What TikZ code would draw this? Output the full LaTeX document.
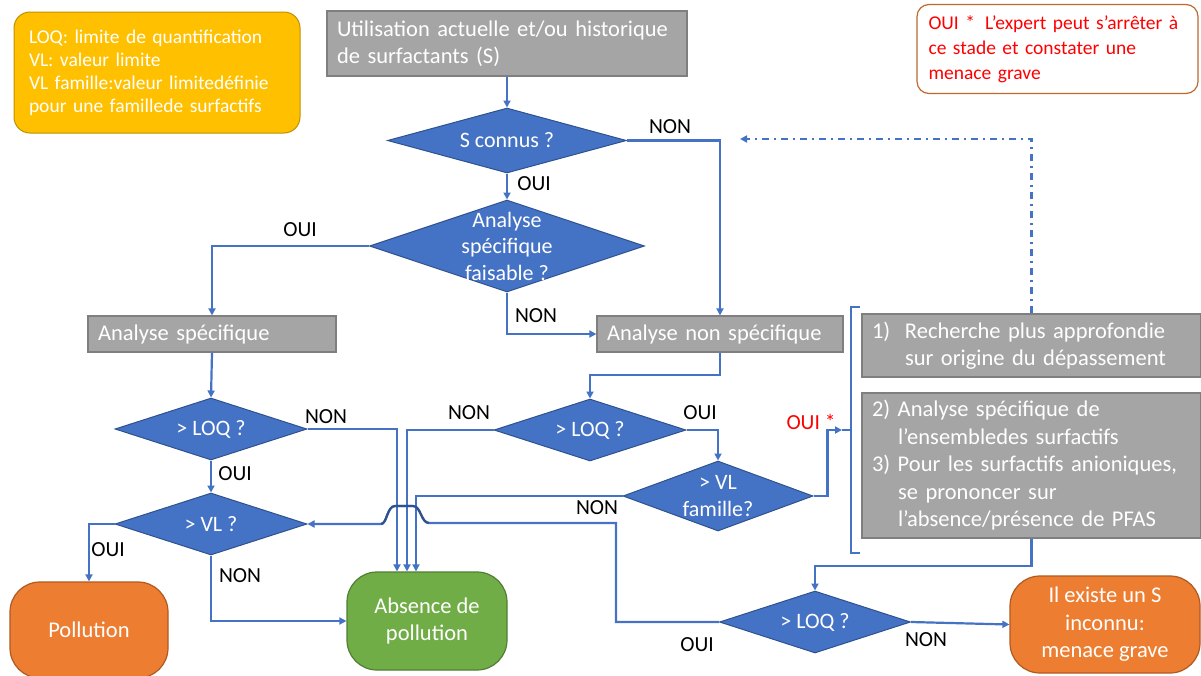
\documentclass[tikz,border=0pt]{standalone}
\usepackage{fontspec}
\setmainfont{Carlito}
\usetikzlibrary{shapes.geometric,arrows.meta,calc}
\definecolor{dblue}{HTML}{4472C4}
\definecolor{dbluedk}{HTML}{2F528F}
\definecolor{boxgray}{HTML}{A5A5A5}
\definecolor{boxgraydk}{HTML}{7F7F7F}
\definecolor{legyel}{HTML}{FFC000}
\definecolor{legyeldk}{HTML}{BF9000}
\definecolor{termor}{HTML}{ED7D31}
\definecolor{termordk}{HTML}{AE5A21}
\definecolor{termgr}{HTML}{70AD47}
\definecolor{termgrdk}{HTML}{507E32}
\definecolor{notebr}{HTML}{C0682C}
\definecolor{notered}{HTML}{FF0000}
\newcommand\setfs[2]{\fontsize{#1}{#2}\selectfont}

\begin{document}
\begin{tikzpicture}[x=1pt,y=-1pt,
  dia/.style={diamond, draw=dbluedk, fill=dblue, line width=1pt, inner sep=0pt},
  dtext/.style={text=white, font=\setfs{22}{26.5}, align=center, inner sep=0pt},
  grbox/.style={rectangle, draw=boxgraydk, fill=boxgray, line width=1.2pt, text=white,
    font=\setfs{22.5}{27.5}, align=left, inner xsep=10pt, inner ysep=0pt},
  term/.style={rectangle, rounded corners=30pt, line width=1.2pt, text=white,
    font=\setfs{22.5}{27.5}, align=center, inner sep=0pt},
  conn/.style={draw=dblue, line width=2.2pt},
  arr/.style={conn, -{Triangle[length=7pt,width=7pt]}},
  lab/.style={font=\setfs{21.5}{25}, text=black, inner sep=0pt},
]
\useasboundingbox (0,0) rectangle (1201,675);

% legend and note
\node[rectangle, rounded corners=16pt, fill=legyel, draw=legyeldk, line width=1pt,
  minimum width=286pt, minimum height=121pt, text width=256pt, align=left,
  text=white, font=\setfs{19.5}{23}, inner sep=0pt] (legend) at (157,72.5)
  {LOQ: limite de quantification\\VL: valeur limite\\VL famille:valeur limitedéfinie\\pour une famillede surfactifs};
\node[rectangle, rounded corners=12pt, fill=white, draw=notebr, line width=1.2pt,
  minimum width=281pt, minimum height=89pt, text width=258pt, align=left,
  text=notered, font=\setfs{19.5}{25}, inner xsep=11.5pt, inner ysep=0pt] (note) at (1057.5,49)
  {OUI *\hspace{10pt}L’expert peut s’arrêter à\\ce stade et constater une\\menace grave};

% process boxes
\node[grbox, minimum width=360pt, minimum height=65pt, text width=340pt] (top) at (507,43.5)
  {Utilisation actuelle et/ou historique\\de surfactants (S)};
\node[grbox, minimum width=248pt, minimum height=36pt, text width=228pt] (spec) at (212,334)
  {Analyse spécifique};
\node[grbox, minimum width=246pt, minimum height=36pt, text width=226pt] (nonspec) at (720,334)
  {Analyse non spécifique};
\node[grbox, minimum width=339pt, minimum height=63pt, text width=319pt] (box1) at (1031.5,345.5)
  {\makebox[33pt][l]{1)}Recherche plus approfondie\\\hspace*{33pt}sur origine du dépassement};
\node[grbox, minimum width=339pt, minimum height=145pt, text width=319pt] (box23) at (1031.5,465.5)
  {2) Analyse spécifique de\\\hspace*{26pt}l’ensembledes surfactifs\\3) Pour les surfactifs anioniques,\\\hspace*{26pt}se prononcer sur\\\hspace*{26pt}l’absence/présence de PFAS};

% decisions
\node[dia, minimum width=239pt, minimum height=65pt] (s1) at (507,140.5) {};
\node[dtext] (s1t) at (s1.center) {S connus ?};
\node[dia, minimum width=275pt, minimum height=92pt] (d2) at (507,246) {};
\node[dtext] (d2t) at (d2.center) {Analyse\\spécifique\\faisable ?};
\node[dia, minimum width=192pt, minimum height=62pt] (loq1) at (211,429) {};
\node[dtext] (loq1t) at (loq1.center) {> LOQ ?};
\node[dia, minimum width=192pt, minimum height=62pt] (vl) at (211,524) {};
\node[dtext] (vlt) at (vl.center) {> VL ?};
\node[dia, minimum width=192pt, minimum height=62pt] (loq2) at (590,430) {};
\node[dtext] (loq2t) at (loq2.center) {> LOQ ?};
\node[dia, minimum width=190pt, minimum height=70pt] (vlf) at (718,496) {};
\node[dtext] (vlft) at (vlf.center) {> VL\\famille?};
\node[dia, minimum width=191pt, minimum height=62pt] (loq3) at (815,622) {};
\node[dtext] (loq3t) at (loq3.center) {> LOQ ?};

% outcomes
\node[term, fill=termor, draw=termordk, minimum width=158pt, minimum height=96pt] (pol) at (89,630) {Pollution};
\node[term, fill=termgr, draw=termgrdk, minimum width=160pt, minimum height=98pt] (abs) at (427,621) {Absence de\\pollution};
\node[term, fill=termor, draw=termordk, minimum width=190pt, minimum height=97pt] (ile) at (1105,624.5) {Il existe un S\\inconnu:\\menace grave};

% helper points
\coordinate (brk) at (842,430);
\coordinate (brt) at (860,307);
\coordinate (brb) at (860,553);
\coordinate (fb) at (740,139);
\coordinate (jr) at (616,523);

% connectors
\draw[arr] (top.south) -- (s1.north);
\draw[arr] (s1.east) -| (nonspec.north);
\draw[arr] (s1.south) -- (d2.north);
\draw[arr] (d2.west) -| (spec.north);
\draw[arr] (d2.south) |- (nonspec.west);
\draw[arr] (spec.south) -- (loq1.north);
\draw[arr] (loq1.east) -| ([xshift=-30pt]abs.north);
\draw[arr] (loq2.west) -| ([xshift=-20pt]abs.north);
\draw[arr] (vlf.west) -| ([xshift=-11pt]abs.north);
\draw[arr] (loq1.south) -- (vl.north);
\draw[arr] (vl.west) -| (pol.north);
\draw[arr] (vl.south) |- (abs.west);
\draw[arr] (nonspec.south) -- ++(0,22) -| (loq2.north);
\draw[arr] (loq2.east) -| (vlf.north);
\draw[arr] (vlf.east) -- ++(14,0) |- (brk);
\draw[conn] (brt) -- ++(-9,0) -- ($(brb)+(-9,0)$) -- (brb);
\draw[conn] (brk) -- (851,430);
\draw[arr] (box23.south) -- ++(0,27) -| (loq3.north);
\draw[arr] (loq3.east) -- (ile.west);
\draw[arr] (loq3.west) -| (jr) -- (429,523)
  .. controls (421,523) and (421,506) .. (413,506) -- (395,506)
  .. controls (387,506) and (387,524) .. (381,524) -- (vl.east);
\draw[draw=dbluedk, line width=2.2pt] (429,523)
  .. controls (421,523) and (421,506) .. (413,506) -- (395,506)
  .. controls (387,506) and (387,524) .. (381,524);
\draw[conn, dash pattern=on 7pt off 5pt on 2pt off 5pt, -{Triangle[length=7pt,width=7pt]}]
  (box1.north) |- (fb);

% branch labels
\node[lab] (l1) at (670,127) {NON};
\node[lab] (l2) at (534,184) {OUI};
\node[lab] (l3) at (300,230) {OUI};
\node[lab] (l4) at (536,316) {NON};
\node[lab] (l5) at (326,417) {NON};
\node[lab] (l6) at (235,474) {OUI};
\node[lab] (l7) at (469,413) {NON};
\node[lab] (l8) at (700,413) {OUI};
\node[lab, text=notered] (l9) at (811,422) {OUI *};
\node[lab] (l10) at (597,508) {NON};
\node[lab] (l11) at (108,550) {OUI};
\node[lab] (l12) at (240,576) {NON};
\node[lab] (l13) at (697,645) {OUI};
\node[lab] (l14) at (926,640) {NON};
\end{tikzpicture}
\end{document}
